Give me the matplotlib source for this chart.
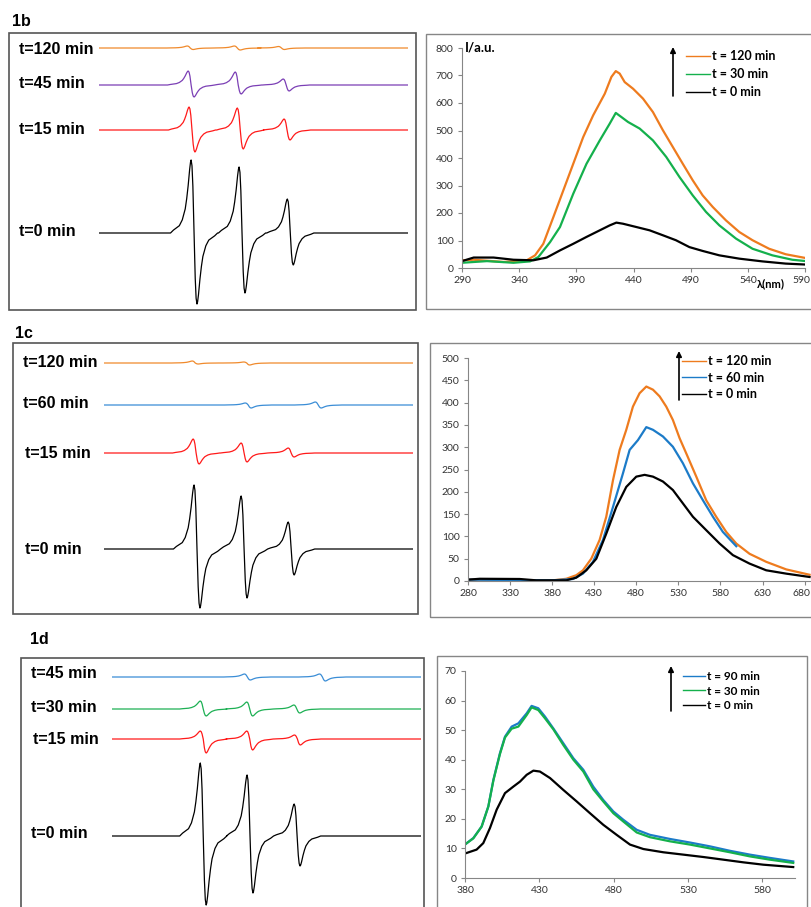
import matplotlib
matplotlib.use('Agg')
import matplotlib.pyplot as plt
from matplotlib.patches import Rectangle
from matplotlib.lines import Line2D
from matplotlib.font_manager import FontProperties
from matplotlib.transforms import ScaledTranslation

# ---------------- EPR spectra (left column) ----------------
# sweep in gauss, lines of the nitroxide triplet: centre, up-peak and down-peak heights (a.u.)
SWEEP = (3430, 3535)
SHAPE_DX = [-8, -7, -5, -4, -3, -2.5, -2, -1.5, -1.2, -1, -0.7, -0.4, 0,
            0.4, 0.7, 1, 1.2, 1.5, 2, 2.5, 3, 4, 5, 7, 8]
SHAPE_Y = [0, 0.04, 0.10, 0.18, 0.33, 0.47, 0.65, 0.87, 0.97, 1, 0.92, 0.64, 0,
           -0.64, -0.92, -1, -0.97, -0.87, -0.65, -0.47, -0.33, -0.18, -0.10, -0.04, 0]

epr_b_labels = ['t=120 min', 't=45 min', 't=15 min', 't=0 min']
epr_b_colors = ['#F08A2C', '#7B3FB5', '#FF1A1A', '#000000']
epr_b_centers = [[3461, 3477, 3492], [3461.3, 3477.3, 3493.6], [3461.6, 3478.0, 3493.9], [3462.3, 3478.6, 3495.0]]
epr_b_up = [[2, 2, 1.5], [14, 13, 6], [23, 22, 11], [73, 66, 34]]
epr_b_down = [[1.5, 2, 1.5], [12, 9, 6], [22, 19, 10], [71, 60, 32]]

epr_c_labels = ['t=120 min', 't=60 min', 't=15 min', 't=0 min']
epr_c_colors = ['#F08A2C', '#3A8DD6', '#FF1A1A', '#000000']
epr_c_centers = [[3461, 3478.5], [3479.0, 3502.8], [3461.3, 3477.6, 3493.6], [3461.6, 3477.6, 3493.6]]
epr_c_up = [[2, 1], [2, 3], [14, 10, 5], [64, 53, 27]]
epr_c_down = [[1, 2], [3, 3], [11, 9, 4], [59, 49, 26]]

epr_d_labels = ['t=45 min', 't=30 min', 't=15 min', 't=0 min']
epr_d_colors = ['#3A8DD6', '#1DB054', '#FF1A1A', '#000000']
epr_d_centers = [[3476.0, 3501.5], [3461.0, 3476.8, 3492.8], [3461.0, 3476.8, 3493.0], [3461.0, 3476.9, 3492.9]]
epr_d_up = [[3, 3], [8, 7, 4], [8, 8, 4], [73, 61, 32]]
epr_d_down = [[3, 4], [7, 7, 4], [14, 11, 6], [69, 57, 30]]

# ---------------- fluorescence spectra (right column) ----------------
fl_b_labels = ['t = 120 min', 't = 30 min', 't = 0 min']
fl_b_colors = ['#EE7B1E', '#14B04C', '#000000']
fl_b_x120 = [290, 300.2, 326.3, 346.6, 353.9, 361.1, 369.9, 378.6, 387.3, 396, 404.7, 414.9, 420.7, 424.5,
             427.9, 432.3, 439.6, 448.3, 457, 465.7, 474.4, 483.1, 491.8, 500.5, 509.3, 520.9, 532.5, 544.1,
             558.6, 573.1, 593.5]
fl_b_y120 = [28, 30, 22, 28, 46, 88, 185, 282, 379, 476, 555, 634, 695, 716, 707, 676, 652, 616, 567, 501,
             440, 379, 319, 264, 222, 173, 131, 101, 70, 50, 34]
fl_b_x30 = [290, 311.8, 335, 349.5, 356.8, 367, 375.7, 387.3, 398.9, 410.5, 419.2, 424.5, 429.4, 435.2,
            445.4, 457, 468.6, 480.2, 491.8, 503.4, 515.1, 529.6, 544.1, 561.5, 578.9, 593.5]
fl_b_y30 = [19, 25, 19, 24, 40, 94, 149, 270, 379, 464, 525, 564, 549, 531, 507, 464, 404, 331, 264, 204,
            155, 107, 70, 46, 30, 24]
fl_b_x0 = [290, 300.2, 317.6, 335, 352.4, 364.1, 375.7, 387.3, 398.9, 410.5, 419.2, 425, 430.8, 442.5,
           454.1, 465.7, 477.1, 488.9, 500.5, 515.1, 532.5, 552.8, 573.1, 593.5]
fl_b_y0 = [25, 38, 38, 30, 28, 38, 64, 88, 113, 137, 155, 165, 161, 149, 137, 119, 101, 76, 62, 46, 34,
           24, 16, 12]

fl_c_labels = ['t = 120 min', 't = 60 min', 't = 0 min']
fl_c_colors = ['#EE7B1E', '#1C7BC8', '#000000']
fl_c_x120 = [280, 381, 396.8, 408.7, 416.6, 426.5, 436.4, 444.3, 452.3, 460.2, 468.1, 476, 483.9, 491.9,
             499.8, 507.7, 515.6, 523.5, 531.5, 539.4, 551.3, 563.1, 575, 586.9, 598.8, 614.6, 634.4,
             658.2, 685.9]
fl_c_y120 = [3, 1.5, 5, 13, 24, 50, 92, 144, 226, 294, 339, 391, 421, 436, 429, 414, 391, 361, 320, 286,
             234, 181, 144, 110, 84, 61, 43, 26, 14]
fl_c_x60 = [280, 381, 404.7, 416.6, 428.5, 440.4, 452.3, 464.1, 472.1, 482, 491.9, 499.8, 511.7, 523.5,
            535.4, 547.3, 559.2, 571.1, 582.9, 598.8]
fl_c_y60 = [3, 1.5, 4.5, 16.5, 43, 92, 166, 241, 294, 316, 345, 339, 324, 301, 264, 219, 181, 144, 110, 78]
fl_c_x0 = [280, 293.9, 341.4, 361.2, 396.8, 408.7, 420.6, 432.5, 444.3, 456.2, 468.1, 480, 489.9, 499.8,
           511.7, 523.5, 535.4, 547.3, 563.1, 579, 594.8, 614.6, 634.4, 658.2, 685.9]
fl_c_y0 = [3, 5, 4.5, 1.5, 1.5, 7.5, 24, 50, 106, 166, 211, 234, 238, 234, 223, 204, 174, 144, 114, 84,
           58, 39, 24, 16.5, 9]

fl_d_labels = ['t = 90 min', 't = 30 min', 't = 0 min']
fl_d_colors = ['#1C7BC8', '#14B04C', '#000000']
fl_d_x = [380.7, 385.6, 391.2, 395.7, 399.1, 403.5, 406.9, 411.4, 415.9, 421.5, 424.8, 429.3, 433.8, 439.4,
          446.1, 452.9, 459.6, 466.3, 473.0, 479.8, 486.5, 495.5, 504.4, 517.9, 531.3, 544.8, 558.2, 571.7,
          585.1, 600.8]
fl_d_y90 = [11.6, 13.5, 17.4, 24.2, 33.2, 42.2, 47.8, 51.2, 52.3, 55.7, 58.2, 57.4, 54.6, 50.6, 45.6, 40.5,
            36.6, 30.9, 26.4, 22.5, 19.7, 16.3, 14.6, 13.2, 12.0, 10.7, 9.2, 7.9, 6.8, 5.6]
fl_d_y30 = [11.6, 13.4, 17.4, 24.2, 33.0, 41.9, 47.5, 50.5, 51.2, 55.1, 57.7, 56.8, 54.0, 50.3, 45.0, 40.0,
            36.0, 30.0, 25.9, 21.9, 19.1, 15.4, 13.8, 12.4, 11.3, 10.0, 8.7, 7.3, 6.2, 5.1]
fl_d_x0 = [380.7, 387.8, 392.3, 396.8, 401.3, 406.9, 412.5, 417.0, 421.5, 426.0, 430.4, 437.2, 446.1, 455.1,
           464.1, 473.0, 482.0, 491.0, 500.0, 513.4, 526.9, 540.3, 553.8, 567.2, 580.7, 600.8]
fl_d_y0 = [8.4, 9.6, 11.8, 16.9, 23.1, 28.7, 30.9, 32.6, 34.9, 36.3, 36.0, 33.8, 29.8, 25.9, 21.9, 18.0,
           14.6, 11.3, 9.8, 8.7, 7.9, 7.1, 6.2, 5.3, 4.5, 3.7]

# ---------------- layout helpers (pixel based) ----------------
W, H = 811, 907
fig = plt.figure(figsize=(W / 100, H / 100), dpi=100)


def fx(px):
    return px / W


def fy(py):
    return 1 - py / H


def px_axes(l, t, r, b):
    return fig.add_axes([fx(l), fy(b), (r - l) / W, (b - t) / H])


def box(l, t, r, b, color, lw):
    fig.add_artist(Rectangle((fx(l), fy(b)), (r - l) / W, (b - t) / H, transform=fig.transFigure,
                             fill=False, ec=color, lw=lw))


def epr_trace(centers, ups, downs):
    x, y = [SWEEP[0]], [0]
    for c, u, d in zip(centers, ups, downs):
        for dx, s in zip(SHAPE_DX, SHAPE_Y):
            x.append(c + dx)
            y.append(s * u if s > 0 else s * d)
    x.append(SWEEP[1])
    y.append(0)
    return x, y


epr_font = dict(family='Liberation Sans', weight='bold', size=11.5)


def epr_panel(tag, tag_xy, frame, start_px, baselines, labels, label_xy, colors, centers, ups, downs):
    l, t, r, b = frame
    box(l, t, r, b, '#555555', 1.2)
    fig.text(fx(tag_xy[0]), fy(tag_xy[1]), tag, va='center', ha='left', **epr_font)
    ax = px_axes(start_px, t, start_px + 309, b)
    ax.set_xlim(*SWEEP)
    ax.set_ylim(0, b - t)
    ax.axis('off')
    for base, lab, (lx, ly), col, cen, up, dn in zip(baselines, labels, label_xy, colors, centers, ups, downs):
        x, y = epr_trace(cen, up, dn)
        ax.plot(x, [b - base + v for v in y], color=col, lw=0.9)
        fig.text(fx(lx), fy(ly), lab, va='center', ha='left', **epr_font)


epr_panel('1b', (12, 21), (9, 33, 416, 310), 99, [48, 85, 130, 233], epr_b_labels,
          [(19, 50), (19, 84), (19, 130), (19, 231)], epr_b_colors, epr_b_centers, epr_b_up, epr_b_down)
epr_panel('1c', (15, 333), (13, 343, 418, 614), 104, [363, 405, 453, 549], epr_c_labels,
          [(23, 363), (23, 404), (25, 453), (25, 549)], epr_c_colors, epr_c_centers, epr_c_up, epr_c_down)
epr_panel('1d', (30, 639), (21, 658, 424, 915), 112, [677, 709, 739, 836], epr_d_labels,
          [(31, 674), (31, 708), (33, 740), (31, 833)], epr_d_colors, epr_d_centers, epr_d_up, epr_d_down)

# ---------------- fluorescence panels ----------------
tick_font = dict(family='Lato', size=7.5)
GRAY = '#868686'


def fl_panel(frame, axpos, xlim, ylim, xticks, yticks, series, labels, colors,
             leg_xy, leg_size, leg_space, arrow_px, last_shift=0):
    l, t, r, b = frame
    box(l, t, r, b, GRAY, 1.0)
    ax = px_axes(*axpos)
    for (x, y), col in zip(series, colors):
        ax.plot(x, y, color=col, lw=1.6)
    ax.set_xlim(*xlim)
    ax.set_ylim(*ylim)
    ax.set_xticks(xticks)
    ax.set_yticks(yticks)
    ax.set_xticklabels([str(v) for v in xticks], **tick_font)
    ax.set_yticklabels([str(v) for v in yticks], **tick_font)
    ax.tick_params(colors=GRAY, labelcolor='#333333', length=3, width=0.8, pad=3)
    if last_shift:
        lab = ax.get_xticklabels()[-1]
        lab.set_transform(lab.get_transform() + ScaledTranslation(last_shift / 100, 0, fig.dpi_scale_trans))
    for s in ['top', 'right']:
        ax.spines[s].set_visible(False)
    for s in ['left', 'bottom']:
        ax.spines[s].set_color(GRAY)
        ax.spines[s].set_linewidth(0.8)
    handles = [Line2D([], [], color=c, lw=1.0) for c in colors]
    ax.legend(handles, labels, loc='upper left', bbox_to_anchor=(fx(leg_xy[0]), fy(leg_xy[1])),
              bbox_transform=fig.transFigure, frameon=False, borderpad=0, borderaxespad=0,
              handlelength=1.9, handletextpad=0.15, labelspacing=leg_space,
              prop=FontProperties(family='Lato', weight='bold', size=leg_size))
    ax.annotate('', xy=(fx(arrow_px[0]), fy(arrow_px[1])), xytext=(fx(arrow_px[0]), fy(arrow_px[2])),
                xycoords='figure fraction', textcoords='figure fraction',
                arrowprops=dict(arrowstyle='-|>', color='black', lw=1.2, mutation_scale=8,
                                shrinkA=0, shrinkB=0))
    return ax


ax_b = fl_panel((426, 34, 830, 309), (462, 48, 805, 268), (290, 590), (0, 800),
                [290, 340, 390, 440, 490, 540, 590], list(range(0, 801, 100)),
                [(fl_b_x120, fl_b_y120), (fl_b_x30, fl_b_y30), (fl_b_x0, fl_b_y0)],
                fl_b_labels, fl_b_colors, (686, 50), 9, 0.5, (673, 47, 96), last_shift=-4)
fig.text(fx(465), fy(48), 'I/a.u.', va='center', ha='left', family='Lato', weight='bold', size=9.5)
ax_b.annotate('λ(nm)', xy=(547.5, 0), xytext=(0, -11), textcoords='offset points', va='center',
              ha='left', family='Lato', weight='bold', size=8)

fl_panel((430, 343, 830, 617), (468, 358, 813, 581), (280, 690), (0, 500),
         [280, 330, 380, 430, 480, 530, 580, 630, 680], list(range(0, 501, 50)),
         [(fl_c_x120, fl_c_y120), (fl_c_x60, fl_c_y60), (fl_c_x0, fl_c_y0)],
         fl_c_labels, fl_c_colors, (682, 355), 9, 0.38, (679, 351, 400), last_shift=-3)

fl_panel((437, 656, 807, 915), (465, 671, 795, 878), (380, 602), (0, 70),
         [380, 430, 480, 530, 580], list(range(0, 71, 10)),
         [(fl_d_x, fl_d_y90), (fl_d_x, fl_d_y30), (fl_d_x0, fl_d_y0)],
         fl_d_labels, fl_d_colors, (683, 671), 8.5, 0.3, (671, 666, 711))

fig.savefig('out.png', dpi=100)
